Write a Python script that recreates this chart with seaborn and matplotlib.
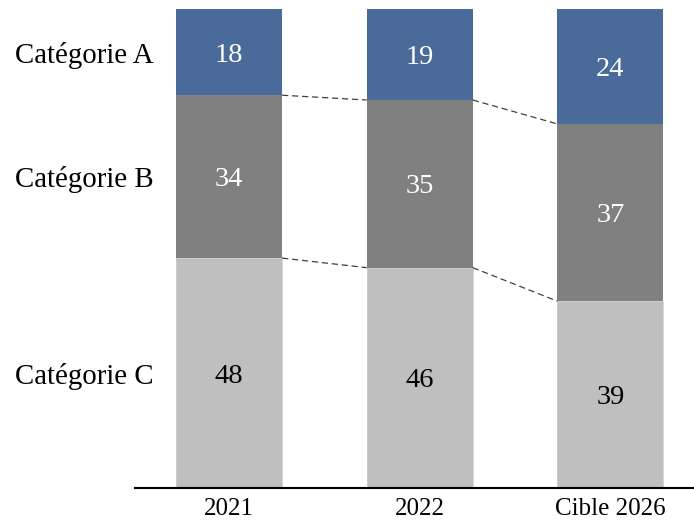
import pandas as pd
import seaborn as sb
import matplotlib.pyplot as plt

periods = ["2021", "2022", "Cible 2026"]
cat_a = [18, 19, 24]
cat_b = [34, 35, 37]
cat_c = [48, 46, 39]
cat_names = ["Catégorie A", "Catégorie B", "Catégorie C"]

BLUE = "#4a6b9a"
MID = "#808080"
LIGHT = "#bfbfbf"
BAR_W = 0.556


def plot_stacked():
    df = pd.DataFrame({"Période": periods, "A": cat_a, "B": cat_b, "C": cat_c})
    df["BC"] = df["B"] + df["C"]
    df["ABC"] = df["A"] + df["BC"]

    sb.set_style("white")
    plt.rcParams["font.family"] = ["Liberation Serif", "DejaVu Serif"]

    fig = plt.figure(figsize=(6.94, 5.22), dpi=100)
    ax = fig.add_axes([135 / 694, 34 / 522, 559 / 694, 479 / 522])

    # stacked bars drawn as overlapping cumulative totals
    sb.barplot(data=df, x="Période", y="ABC", color=BLUE, width=BAR_W,
               saturation=1, ax=ax, linewidth=0)
    sb.barplot(data=df, x="Période", y="BC", color=MID, width=BAR_W,
               saturation=1, ax=ax, linewidth=0)
    sb.barplot(data=df, x="Période", y="C", color=LIGHT, width=BAR_W,
               saturation=1, ax=ax, edgecolor="#d6d6d6", linewidth=0.6)

    # dashed connectors between segment boundaries
    for col in ["C", "BC"]:
        vals = df[col].tolist()
        for i in range(len(vals) - 1):
            ax.plot([i + BAR_W / 2, i + 1 - BAR_W / 2], [vals[i], vals[i + 1]],
                    color="#404040", linestyle=(0, (5, 3)), linewidth=0.9)

    # value labels
    for i in range(len(periods)):
        c, b, a = cat_c[i], cat_b[i], cat_a[i]
        kw = dict(ha="center", va="center_baseline", fontsize=20.5)
        ax.text(i, c / 2, str(c), color="black", **kw)
        ax.text(i, c + b / 2, str(b), color="white", **kw)
        ax.text(i, c + b + a / 2, str(a), color="white", **kw)

    # category labels next to the first bar
    centers = [cat_c[0] + cat_b[0] + cat_a[0] / 2, cat_c[0] + cat_b[0] / 2, cat_c[0] / 2]
    for name, y in zip(cat_names, centers):
        ax.text(-0.393, y, name, ha="right", va="center_baseline", fontsize=20.8,
                color="black", clip_on=False)

    ax.set_ylim(0, 100)
    ax.set_xlim(-0.493, 2.438)
    ax.set_xlabel("")
    ax.set_ylabel("")
    ax.set_yticks([])
    ax.tick_params(axis="x", length=0, pad=7.5, labelsize=18, colors="black")
    for side in ["top", "right", "left"]:
        ax.spines[side].set_visible(False)
    ax.spines["bottom"].set_color("black")
    ax.spines["bottom"].set_linewidth(1.5)

    fig.savefig("out.png", dpi=100)


def main():
    plot_stacked()


if __name__ == "__main__":
    main()
